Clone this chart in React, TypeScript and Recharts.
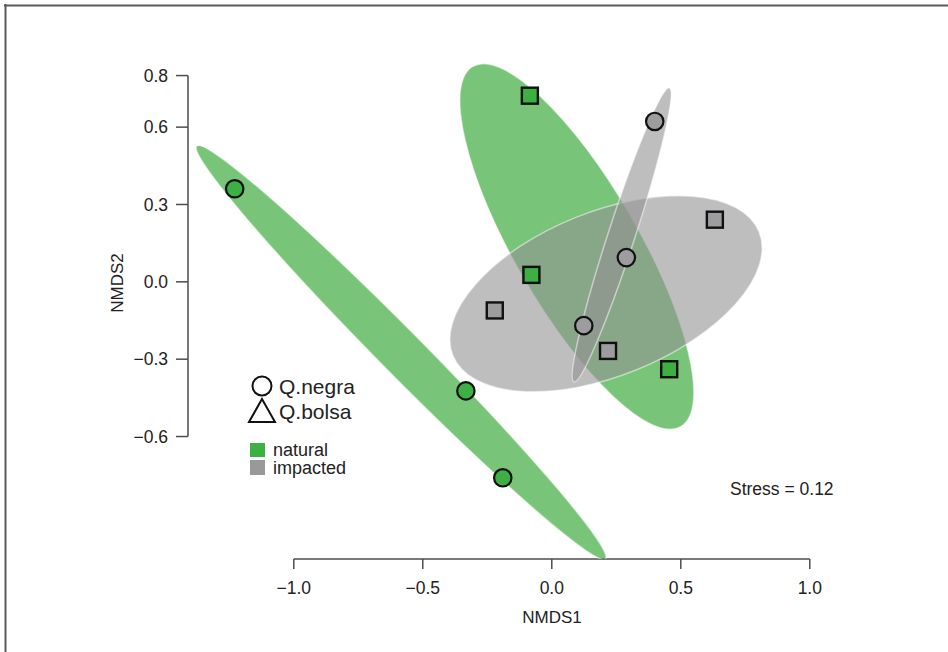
import React from 'react';
import { ScatterChart, Scatter, XAxis, YAxis, ReferenceLine } from 'recharts';

const FONT = '"Liberation Sans", Arial, Helvetica, sans-serif';

// ellipse fills are drawn semi transparent so overlaps darken
const GREEN_FILL = '#1e9d1e';
const GRAY_FILL = '#929292';
const GREEN_PT = '#3cb043';
const GRAY_PT = '#9d9d9f';
const AXIS_COL = '#4d4d4d';

// NMDS scores
const negraNaturalX = [-1.229, -0.333, -0.19];
const negraNaturalY = [0.361, -0.423, -0.76];
const negraImpactedX = [0.399, 0.289, 0.124];
const negraImpactedY = [0.622, 0.094, -0.17];
const bolsaNaturalX = [-0.085, -0.079, 0.455];
const bolsaNaturalY = [0.722, 0.027, -0.339];
const bolsaImpactedX = [0.632, -0.221, 0.218];
const bolsaImpactedY = [0.241, -0.111, -0.268];

// group ellipses: centre, semi axes (NMDS units), angle of long axis (deg)
const ellipseGroup = ['natural', 'natural', 'impacted', 'impacted'];
const ellipseCx = [-0.584, 0.097, 0.21, 0.271];
const ellipseCy = [-0.274, 0.137, -0.046, 0.182];
const ellipseA = [1.126, 0.806, 0.64, 0.599];
const ellipseB = [0.085, 0.24, 0.318, 0.052];
const ellipseAngle = [-45.3, -60, 22, 72];

const xTicks = [-1, -0.5, 0, 0.5, 1];
const yTicks = [-0.6, -0.3, 0, 0.3, 0.6, 0.8];

// layout
const W = 948;
const H = 652;
const MARGIN = { top: 24, right: 35, bottom: 33, left: 108 };
const Y_AXIS_W = 80;
const X_AXIS_H = 60;
const X_DOMAIN: [number, number] = [-1.41, 1.4];
const Y_DOMAIN: [number, number] = [-1.075, 1.0];
// equal aspect, same px per unit on both axes
const PX = (W - MARGIN.left - MARGIN.right - Y_AXIS_W) / (X_DOMAIN[1] - X_DOMAIN[0]);

const toPts = (xs: number[], ys: number[]) => xs.map((x, i) => ({ x, y: ys[i] }));

const ellipseData = (group: string) =>
  ellipseGroup
    .map((g, i) => ({ g, x: ellipseCx[i], y: ellipseCy[i], a: ellipseA[i], b: ellipseB[i], angle: ellipseAngle[i] }))
    .filter((e) => e.g === group);

const fmt = (v: number) => v.toFixed(1).replace('-', '\u2212');

const makeEllipse = (color: string) => (props: any) => {
  const { cx, cy, payload } = props;
  if (cx == null || cy == null || !payload) return null;
  return (
    <ellipse
      cx={cx}
      cy={cy}
      rx={payload.a * PX}
      ry={payload.b * PX}
      transform={`rotate(${-payload.angle} ${cx} ${cy})`}
      fill={color}
      fillOpacity={0.6}
      stroke="#ffffff"
      strokeOpacity={0.5}
      strokeWidth={1.5}
    />
  );
};

const makeCircle = (color: string) => (props: any) => (
  <circle cx={props.cx} cy={props.cy} r={8.7} fill={color} stroke="#111" strokeWidth={2.2} />
);

const makeSquare = (color: string) => (props: any) => (
  <rect x={props.cx - 8} y={props.cy - 8} width={16} height={16} fill={color} stroke="#111" strokeWidth={2.4} />
);

const tickStyle = { fontSize: 17.5, fill: '#222', fontFamily: FONT };

export default function App() {
  return (
    <div style={{ position: 'absolute', left: 0, top: 0, width: W, height: H, background: '#fff' }}>
      <ScatterChart width={W} height={H} margin={MARGIN}>
        <XAxis
          type="number"
          dataKey="x"
          domain={X_DOMAIN}
          ticks={xTicks}
          allowDataOverflow
          height={X_AXIS_H}
          axisLine={false}
          tickLine={{ stroke: AXIS_COL, strokeWidth: 1.5 }}
          tickSize={10}
          tickMargin={13}
          tick={tickStyle}
          tickFormatter={fmt}
        />
        <YAxis
          type="number"
          dataKey="y"
          domain={Y_DOMAIN}
          ticks={yTicks}
          allowDataOverflow
          width={Y_AXIS_W}
          axisLine={false}
          tickLine={{ stroke: AXIS_COL, strokeWidth: 1.5 }}
          tickSize={12}
          tickMargin={8}
          tick={tickStyle}
          tickFormatter={fmt}
        />

        {/* R style axes: lines only span the tick range */}
        <ReferenceLine
          segment={[{ x: xTicks[0], y: Y_DOMAIN[0] }, { x: xTicks[xTicks.length - 1], y: Y_DOMAIN[0] }]}
          stroke={AXIS_COL}
          strokeWidth={1.5}
          ifOverflow="visible"
        />
        <ReferenceLine
          segment={[{ x: X_DOMAIN[0], y: yTicks[0] }, { x: X_DOMAIN[0], y: yTicks[yTicks.length - 1] }]}
          stroke={AXIS_COL}
          strokeWidth={1.5}
          ifOverflow="visible"
        />

        <Scatter data={ellipseData('natural')} shape={makeEllipse(GREEN_FILL)} isAnimationActive={false} />
        <Scatter data={ellipseData('impacted')} shape={makeEllipse(GRAY_FILL)} isAnimationActive={false} />

        <Scatter data={toPts(negraNaturalX, negraNaturalY)} shape={makeCircle(GREEN_PT)} isAnimationActive={false} />
        <Scatter data={toPts(negraImpactedX, negraImpactedY)} shape={makeCircle(GRAY_PT)} isAnimationActive={false} />
        <Scatter data={toPts(bolsaNaturalX, bolsaNaturalY)} shape={makeSquare(GREEN_PT)} isAnimationActive={false} />
        <Scatter data={toPts(bolsaImpactedX, bolsaImpactedY)} shape={makeSquare(GRAY_PT)} isAnimationActive={false} />
      </ScatterChart>

      <svg
        width={W}
        height={H}
        style={{ position: 'absolute', left: 0, top: 0, pointerEvents: 'none' }}
        fontFamily={FONT}
      >
        {/* frame */}
        <line x1={4} y1={5.5} x2={W} y2={5.5} stroke="#5a5a5a" strokeWidth={2} />
        <line x1={5.5} y1={4} x2={5.5} y2={H} stroke="#5a5a5a" strokeWidth={2} />

        {/* axis titles */}
        <text x={552} y={617} textAnchor="middle" dominantBaseline="central" fontSize={17} fill="#222">
          NMDS1
        </text>
        <text
          x={117}
          y={283}
          textAnchor="middle"
          dominantBaseline="central"
          fontSize={17}
          fill="#222"
          transform="rotate(-90 117 283)"
        >
          NMDS2
        </text>

        {/* species legend */}
        <circle cx={262} cy={386} r={9.5} fill="none" stroke="#111" strokeWidth={2} />
        <text x={279} y={386} dominantBaseline="central" fontSize={21} fill="#222">Q.negra</text>
        <polygon points="262,399 249,422 275,422" fill="none" stroke="#111" strokeWidth={2} />
        <text x={279} y={411} dominantBaseline="central" fontSize={21} fill="#222">Q.bolsa</text>

        {/* site legend */}
        <rect x={250} y={443} width={15} height={14} fill={GREEN_PT} />
        <text x={273} y={450} dominantBaseline="central" fontSize={18} fill="#222">natural</text>
        <rect x={250} y={460} width={15} height={15} fill="#999" />
        <text x={273} y={467.5} dominantBaseline="central" fontSize={18} fill="#222">impacted</text>

        <text x={730} y={489} dominantBaseline="central" fontSize={17.5} fill="#222">Stress = 0.12</text>
      </svg>
    </div>
  );
}
